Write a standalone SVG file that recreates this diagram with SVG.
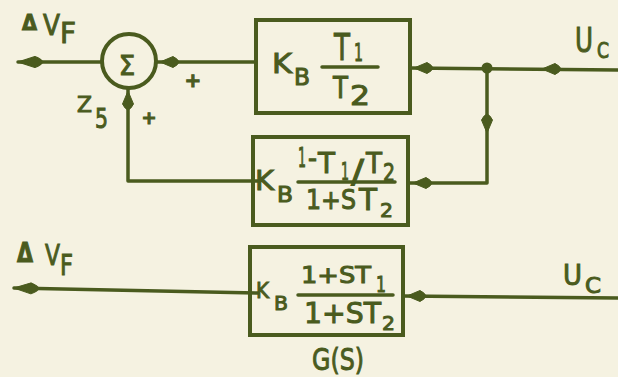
<svg xmlns="http://www.w3.org/2000/svg" xmlns:xlink="http://www.w3.org/1999/xlink" width="618" height="377" viewBox="0 0 618 377">
<style>
.bg{fill:#f5f2e1}
.box{fill:none;stroke:#4a5b1e;stroke-width:4}
.ln{fill:none;stroke:#4a5b1e;stroke-width:3.5;stroke-linecap:round;stroke-linejoin:round}
.fr{stroke:#4a5b1e;stroke-width:3.5;stroke-linecap:round}
text{font-family:"DejaVu Sans","Liberation Sans",sans-serif;fill:#4a5b1e;stroke:#4a5b1e;stroke-width:1}
.ah{fill:#4a5b1e;stroke:#4a5b1e;stroke-width:1;stroke-linejoin:round}
</style>
<defs>
<path id="ah" class="ah" d="M0,0 L13,-5.5 Q18,-3 19,0 Q18,3 13,5.5 Z"/>
</defs>
<rect class="bg" x="0" y="0" width="618" height="377"/>

<g id="connectors">
  <path class="ln" d="M618,70 L410,68"/>
  <use xlink:href="#ah" transform="translate(542,69)"/>
  <use xlink:href="#ah" transform="translate(414,68)"/>
  <circle cx="487" cy="68" r="5.5" fill="#4a5b1e"/>
  <path class="ln" d="M487,68 L487,183 L408,183"/>
  <use xlink:href="#ah" transform="translate(487,133) rotate(-90)"/>
  <use xlink:href="#ah" transform="translate(413,183)"/>
  <path class="ln" d="M256,62 L157,62"/>
  <use xlink:href="#ah" transform="translate(160,62)"/>
  <path class="ln" d="M102,62 L18,62"/>
  <use xlink:href="#ah" transform="translate(18,62) scale(1.3,1)"/>
  <path class="ln" d="M260,181 L128,181 L128,89"/>
  <use xlink:href="#ah" transform="translate(128,91) rotate(90)"/>
  <path class="ln" d="M618,298 L403,296"/>
  <use xlink:href="#ah" transform="translate(407,296)"/>
  <path class="ln" d="M258,293 L14,288"/>
  <use xlink:href="#ah" transform="translate(14,288) rotate(1.2) scale(1.3,1)"/>
</g>

<g id="sum">
  <circle cx="129" cy="61" r="27" fill="none" stroke="#4a5b1e" stroke-width="4"/>
  <text x="127" y="75" font-size="26" text-anchor="middle">Σ</text>
</g>

<g id="block1">
  <rect class="box" x="256" y="20" width="154" height="93"/>
  <text x="272" y="73" font-size="27" textLength="20" lengthAdjust="spacingAndGlyphs">K</text>
  <text x="294" y="85" font-size="23" textLength="16" lengthAdjust="spacingAndGlyphs">B</text>
  <line class="fr" x1="322" y1="67" x2="378" y2="67"/>
  <text x="334" y="60" font-size="37" textLength="16" lengthAdjust="spacingAndGlyphs">T</text>
  <text x="354" y="61" font-size="24" textLength="9" lengthAdjust="spacingAndGlyphs">1</text>
  <text x="333" y="98" font-size="31" textLength="15" lengthAdjust="spacingAndGlyphs">T</text>
  <text x="350" y="105" font-size="27" textLength="20" lengthAdjust="spacingAndGlyphs">2</text>
</g>

<g id="block2">
  <rect class="box" x="253" y="137" width="155" height="88"/>
  <text x="255" y="190" font-size="27" textLength="19" lengthAdjust="spacingAndGlyphs">K</text>
  <text x="277" y="202" font-size="21" textLength="16" lengthAdjust="spacingAndGlyphs">B</text>
  <line class="fr" x1="298" y1="182" x2="395" y2="182"/>
  <text x="298" y="167" font-size="26" textLength="8" lengthAdjust="spacingAndGlyphs">1</text>
  <text x="308" y="167" font-size="26" textLength="9" lengthAdjust="spacingAndGlyphs">-</text>
  <text x="318" y="173" font-size="29" textLength="17" lengthAdjust="spacingAndGlyphs">T</text>
  <text x="341" y="180" font-size="24" textLength="8" lengthAdjust="spacingAndGlyphs">1</text>
  <text x="351" y="182" font-size="32" textLength="13" lengthAdjust="spacingAndGlyphs">/</text>
  <text x="366" y="173" font-size="28" textLength="16" lengthAdjust="spacingAndGlyphs">T</text>
  <text x="383" y="181" font-size="24" textLength="12" lengthAdjust="spacingAndGlyphs">2</text>
  <text x="306" y="209" font-size="27" textLength="50" lengthAdjust="spacingAndGlyphs">1+S</text>
  <text x="359" y="210" font-size="30" textLength="18" lengthAdjust="spacingAndGlyphs">T</text>
  <text x="380" y="217" font-size="20" textLength="13" lengthAdjust="spacingAndGlyphs">2</text>
</g>

<g id="block3">
  <rect class="box" x="250" y="247" width="153" height="88"/>
  <text x="256" y="298" font-size="22" textLength="13" lengthAdjust="spacingAndGlyphs">K</text>
  <text x="274" y="310" font-size="20" textLength="14" lengthAdjust="spacingAndGlyphs">B</text>
  <line class="fr" x1="298" y1="295" x2="393" y2="295"/>
  <text x="301" y="283" font-size="23" textLength="70" lengthAdjust="spacingAndGlyphs">1+ST</text>
  <text x="376" y="292" font-size="22" textLength="10" lengthAdjust="spacingAndGlyphs">1</text>
  <text x="304" y="323" font-size="29" textLength="77" lengthAdjust="spacingAndGlyphs">1+ST</text>
  <text x="382" y="330" font-size="20" textLength="13" lengthAdjust="spacingAndGlyphs">2</text>
  <text x="312" y="370" font-size="31" textLength="52" lengthAdjust="spacingAndGlyphs">G(S)</text>
</g>

<g id="labels">
  <text x="22" y="30" font-size="21" font-weight="bold" textLength="15" lengthAdjust="spacingAndGlyphs">Δ</text>
  <text x="43" y="35" font-size="29" textLength="17" lengthAdjust="spacingAndGlyphs">V</text>
  <text x="60" y="43" font-size="28" textLength="16" lengthAdjust="spacingAndGlyphs">F</text>
  <text x="77" y="112" font-size="21" textLength="15" lengthAdjust="spacingAndGlyphs">Z</text>
  <text x="95" y="128" font-size="27" textLength="13" lengthAdjust="spacingAndGlyphs">5</text>
  <text x="193" y="87" font-size="20" font-weight="bold" text-anchor="middle">+</text>
  <text x="149" y="124" font-size="18" font-weight="bold" text-anchor="middle">+</text>
  <text x="575" y="52" font-size="33" textLength="18" lengthAdjust="spacingAndGlyphs">U</text>
  <text x="597" y="58" font-size="21" textLength="12" lengthAdjust="spacingAndGlyphs">C</text>
  <text x="17" y="262" font-size="26" font-weight="bold" textLength="16" lengthAdjust="spacingAndGlyphs">Δ</text>
  <text x="45" y="265" font-size="29" textLength="15" lengthAdjust="spacingAndGlyphs">V</text>
  <text x="60" y="275" font-size="29" textLength="13" lengthAdjust="spacingAndGlyphs">F</text>
  <text x="563" y="285" font-size="28" textLength="19" lengthAdjust="spacingAndGlyphs">U</text>
  <text x="585" y="293" font-size="21" textLength="16" lengthAdjust="spacingAndGlyphs">C</text>
</g>
</svg>
